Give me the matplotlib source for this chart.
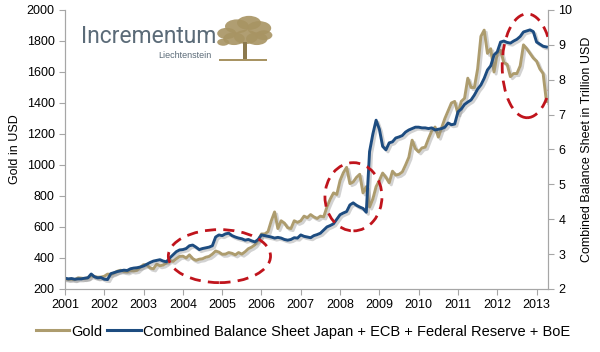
import numpy as np
import matplotlib
matplotlib.use("Agg")
from matplotlib import pyplot as plt
from matplotlib import patheffects as pe
from matplotlib.patches import Ellipse, Circle, Rectangle
from matplotlib.lines import Line2D

plt.rcParams["font.family"] = ["Liberation Sans", "DejaVu Sans"]

# monthly values, Jan 2001 .. Apr 2013
gold = [
    266, 262, 263, 260, 272, 270, 267, 273, 285, 280, 276, 277,
    282, 296, 294, 302, 315, 321, 313, 310, 320, 316, 320, 340,
    357, 355, 335, 330, 360, 350, 355, 368, 385, 378, 395, 410,
    412, 400, 420, 395, 385, 392, 395, 405, 410, 425, 445, 438,
    424, 425, 435, 430, 420, 435, 425, 440, 460, 470, 485, 515,
    555, 555, 570, 640, 697, 590, 640, 625, 595, 590, 640, 630,
    640, 670, 660, 680, 665, 655, 670, 665, 730, 780, 820, 810,
    900, 950, 985, 880, 890, 920, 940, 820, 860, 729, 780, 860,
    900, 948, 920, 885, 960, 935, 940, 955, 1000, 1050, 1160, 1105,
    1085, 1110, 1115, 1170, 1220, 1245, 1180, 1240, 1300, 1350, 1400, 1410,
    1330, 1410, 1430, 1560, 1500, 1500, 1620, 1830, 1870, 1720, 1750, 1600,
    1720, 1740, 1660, 1650, 1570, 1590, 1590, 1640, 1775, 1750, 1720, 1690,
    1670, 1620, 1590, 1410,
]

# combined balance sheet, trillion USD
balance = [
    2.31, 2.29, 2.30, 2.28, 2.29, 2.29, 2.31, 2.32, 2.43, 2.35, 2.32, 2.33,
    2.28, 2.27, 2.44, 2.47, 2.50, 2.52, 2.54, 2.53, 2.58, 2.60, 2.61, 2.63,
    2.66, 2.71, 2.76, 2.80, 2.82, 2.84, 2.80, 2.78, 2.89, 2.98, 3.07, 3.12,
    3.13, 3.16, 3.24, 3.26, 3.20, 3.13, 3.16, 3.18, 3.20, 3.24, 3.49, 3.55,
    3.53, 3.58, 3.60, 3.53, 3.49, 3.46, 3.44, 3.40, 3.42, 3.38, 3.35, 3.42,
    3.55, 3.53, 3.51, 3.49, 3.46, 3.48, 3.46, 3.42, 3.40, 3.42, 3.47, 3.46,
    3.55, 3.51, 3.49, 3.47, 3.53, 3.56, 3.60, 3.69, 3.78, 3.82, 3.87, 4.00,
    4.13, 4.18, 4.22, 4.41, 4.47, 4.40, 4.35, 4.31, 4.20, 5.94, 6.44, 6.84,
    6.58, 6.09, 5.99, 6.19, 6.22, 6.33, 6.36, 6.40, 6.50, 6.56, 6.60, 6.64,
    6.64, 6.62, 6.62, 6.60, 6.62, 6.56, 6.58, 6.60, 6.64, 6.76, 6.71, 6.73,
    7.08, 7.16, 7.29, 7.36, 7.42, 7.56, 7.73, 7.85, 8.04, 8.28, 8.40, 8.71,
    8.80, 9.08, 9.11, 9.07, 9.05, 9.11, 9.16, 9.24, 9.37, 9.40, 9.43, 9.38,
    9.08, 9.02, 8.96, 8.94,
]

year_ticks = list(range(2001, 2014))
gold_ticks = list(range(200, 2001, 200))
bs_ticks = list(range(2, 11))

t = 2001 + np.arange(len(gold)) / 12.0

GOLD_C = "#AD9C6E"
BLUE_C = "#1D4C80"
GRID_C = "#A6A6A6"
RED_C = "#C0141C"

fig = plt.figure(figsize=(6.0, 3.52), dpi=100)
ax = fig.add_axes([0.1083, 0.179, 0.805, 0.7926])
ax2 = ax.twinx()

shadow = [pe.SimpleLineShadow(offset=(1.5, -1.5), shadow_color="#808080", alpha=0.35),
          pe.Normal()]
ax.plot(t, gold, color=GOLD_C, lw=2.1, path_effects=shadow, solid_joinstyle="round")
ax2.plot(t, balance, color=BLUE_C, lw=2.1, path_effects=shadow, solid_joinstyle="round")

ax.set_xlim(2001, 2013.29)
ax.set_ylim(200, 2000)
ax2.set_ylim(2, 10)
ax.set_xticks(year_ticks)
ax.set_yticks(gold_ticks)
ax2.set_yticks(bs_ticks)
ax.tick_params(axis="both", labelsize=9, color=GRID_C, length=4, width=0.8)
ax2.tick_params(axis="y", labelsize=9, color=GRID_C, length=4, width=0.8)

for a in (ax, ax2):
    a.spines["top"].set_visible(False)
    for s in ("left", "right", "bottom"):
        a.spines[s].set_color(GRID_C)
        a.spines[s].set_linewidth(0.8)

ax.set_ylabel("Gold in USD", fontsize=9, labelpad=4)
ax2.set_ylabel("Combined Balance Sheet in Trillion USD", fontsize=9, labelpad=6)

# dashed highlight ellipses (left-axis data units)
for cx, cy, w, h in [(2004.93, 412, 2.6, 342),
                     (2008.34, 795, 1.45, 440),
                     (2012.76, 1640, 1.27, 670)]:
    e = Ellipse((cx, cy), w, h, fill=False, edgecolor=RED_C,
                lw=2.0, ls=(0, (4, 2.6)), transform=ax.transData, zorder=5)
    ax2.add_patch(e)

# logo
fig.text(0.135, 0.895, "Incrementum", fontsize=16.5, color="#5B6B78",
         family=["Roboto", "Liberation Sans"], va="center")
fig.text(0.352, 0.843, "Liechtenstein", fontsize=6.5, color="#5B6B78",
         ha="right", va="center")
tree_c = "#A89463"
for cx, cy, r in [(0.378, 0.905, 0.016), (0.395, 0.925, 0.02), (0.415, 0.935, 0.02),
                  (0.432, 0.92, 0.02), (0.39, 0.89, 0.018), (0.41, 0.895, 0.02),
                  (0.428, 0.89, 0.018), (0.44, 0.9, 0.014), (0.372, 0.88, 0.01)]:
    fig.patches.append(Circle((cx, cy), r, transform=fig.transFigure,
                              color=tree_c, alpha=0.9, ec="none"))
fig.patches.append(Rectangle((0.405, 0.83), 0.006, 0.05, transform=fig.transFigure,
                             color="#8C7A4E", ec="none"))
fig.patches.append(Rectangle((0.365, 0.826), 0.08, 0.006, transform=fig.transFigure,
                             color=tree_c, ec="none"))

handles = [Line2D([], [], color=GOLD_C, lw=2.2),
           Line2D([], [], color=BLUE_C, lw=2.2)]
fig.legend(handles, ["Gold", "Combined Balance Sheet Japan + ECB + Federal Reserve + BoE"],
           loc="center", bbox_to_anchor=(0.505, 0.058), ncol=2, frameon=False,
           fontsize=10.5, handlelength=2.3, handletextpad=0.15, columnspacing=0.3)

fig.savefig("out.png", dpi=100)
